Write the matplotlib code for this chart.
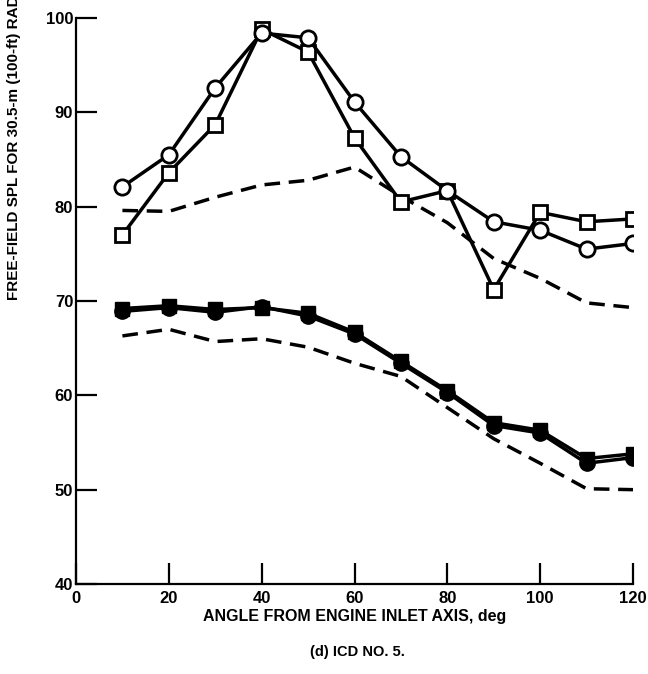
import matplotlib
matplotlib.use("Agg")
import matplotlib.pyplot as plt

# Angles from engine inlet axis (deg)
angle = [10, 20, 30, 40, 50, 60, 70, 80, 90, 100, 110, 120]

# Measured free-field SPL, dB
spl_open_circle = [82.1, 85.5, 92.6, 98.4, 97.9, 91.1, 85.3, 81.7, 78.4, 77.5, 75.5, 76.1]
spl_open_square = [77.0, 83.6, 88.7, 98.8, 96.4, 87.3, 80.5, 81.7, 71.2, 79.4, 78.4, 78.7]
spl_filled_circle = [68.9, 69.3, 68.8, 69.4, 68.4, 66.5, 63.4, 60.3, 56.8, 56.0, 52.8, 53.4]
spl_filled_square = [69.2, 69.5, 69.1, 69.3, 68.7, 66.7, 63.6, 60.5, 57.1, 56.3, 53.3, 53.8]

# Reference (dashed) curves
spl_ref_upper = [79.6, 79.5, 81.0, 82.3, 82.8, 84.2, 81.1, 78.3, 74.5, 72.4, 69.8, 69.3]
spl_ref_lower = [66.3, 67.0, 65.7, 66.0, 65.1, 63.4, 62.0, 58.7, 55.4, 52.8, 50.1, 50.0]

x_ticks = [0, 20, 40, 60, 80, 100, 120]
y_ticks = [40, 50, 60, 70, 80, 90, 100]

W, H = 648, 674
fig = plt.figure(figsize=(W / 100, H / 100), dpi=100)
ax = fig.add_axes([76 / W, (H - 584) / H, (633 - 76) / W, (584 - 18) / H])

dash = (0, (4.5, 2.5))
ax.plot(angle, spl_ref_upper, color="black", lw=2.5, linestyle=dash, zorder=2)
ax.plot(angle, spl_ref_lower, color="black", lw=2.5, linestyle=dash, zorder=2)

ax.plot(angle, spl_open_square, color="black", lw=2.5, marker="s", ms=10,
        mfc="white", mec="black", mew=2, zorder=3)
ax.plot(angle, spl_open_circle, color="black", lw=2.5, marker="o", ms=11,
        mfc="white", mec="black", mew=2, zorder=4)
ax.plot(angle, spl_filled_square, color="black", lw=2.5, marker="s", ms=10,
        mfc="black", mec="black", zorder=3)
ax.plot(angle, spl_filled_circle, color="black", lw=2.5, marker="o", ms=11,
        mfc="black", mec="black", zorder=4)

ax.set_xlim(0, 120)
ax.set_ylim(40, 100)
ax.set_xticks(x_ticks)
ax.set_yticks(y_ticks)
for side in ("top", "right"):
    ax.spines[side].set_visible(False)
for side in ("left", "bottom"):
    ax.spines[side].set_linewidth(1.6)
ax.tick_params(direction="in", length=15, width=1.6)
ax.tick_params(axis="x", pad=5)
ax.tick_params(axis="y", pad=2)

label_font = dict(family=["Liberation Sans", "DejaVu Sans"], weight="bold")
for lab in ax.get_xticklabels() + ax.get_yticklabels():
    lab.set_fontsize(12)
    lab.set_fontfamily(label_font["family"])
    lab.set_fontweight("bold")

ax.set_xlabel("ANGLE FROM ENGINE INLET AXIS, deg", fontsize=11.5, labelpad=2, **label_font)

fig.text(14 / W, (H - 300) / H, "FREE-FIELD SPL FOR 30.5-m (100-ft) RADIUS, dB",
         rotation=90, ha="center", va="bottom", fontsize=11, **label_font)
fig.text(357 / W, (H - 652) / H, "(d) ICD NO. 5.", ha="center", va="center",
         fontsize=10.5, **label_font)

fig.savefig("out.png", dpi=100)
